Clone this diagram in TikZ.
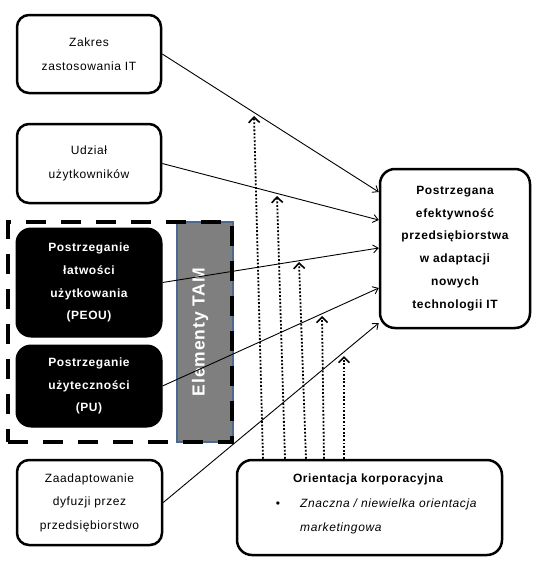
\documentclass[tikz,border=0pt]{standalone}
\usepackage{fontspec}
\setmainfont{Liberation Sans}[LetterSpace=5]
\usetikzlibrary{arrows.meta,calc}
\definecolor{tamgray}{HTML}{7F7F7F}
\definecolor{tamblue}{HTML}{4A6A94}
\begin{document}
\begin{tikzpicture}[x=1pt,y=-1pt,
  txt/.style={font=\fontsize{12}{23.5}\selectfont, align=center},
  wbox/.style={draw=black, line width=2.5pt, rounded corners=12pt, fill=white, txt, inner sep=0pt},
  bbox/.style={draw=black, fill=black, line width=1pt, rounded corners=15pt, align=center, text=white, font=\fontsize{12}{22.8}\selectfont\bfseries, inner sep=0pt},
  conn/.style={line width=0.9pt, -{Straight Barb[length=5pt,width=8pt]}},
  dots/.style={line width=1.8pt, dash pattern=on 1.8pt off 1.8pt, -{Straight Barb[length=5.5pt,width=11pt,line width=1.6pt]}},
]
\useasboundingbox (0,0) rectangle (538,565);

% left column
\node[wbox, minimum width=144pt, minimum height=78pt] (zak) at (89,54) {Zakres\\zastosowania IT};
\node[wbox, minimum width=144pt, minimum height=79pt] (udz) at (89,163.5) {Udział\\użytkowników};

% TAM group
\node[fill=tamgray, draw=tamblue, line width=1.5pt, minimum width=56pt, minimum height=220pt, inner sep=0pt] (tam) at (205,332) {};
\node[rotate=90, text=white, font=\fontsize{17.5}{20}\selectfont\bfseries, inner sep=0pt] (tamt) at (200,332) {Elementy TAM};
\node[draw=black, line width=4.5pt, dash pattern=on 20pt off 15pt, minimum width=224pt, minimum height=220pt, inner sep=0pt] (tamgrp) at (120,332) {};
\node[bbox, minimum width=146pt, minimum height=109pt] (peou) at (89,282.5) {Postrzeganie\\łatwości\\użytkowania\\(PEOU)};
\node[bbox, minimum width=146pt, minimum height=82pt] (pu) at (89,386) {Postrzeganie\\użyteczności\\(PU)};

\node[wbox, minimum width=145pt, minimum height=85pt] (zaad) at (89.5,502.5) {Zaadaptowanie\\dyfuzji przez\\przedsiębiorstwo};

% target
\node[wbox, minimum width=150pt, minimum height=159pt, font=\fontsize{12}{22.8}\selectfont\bfseries, rounded corners=15pt] (post) at (455,248.5) {Postrzegana\\efektywność\\przedsiębiorstwa\\w adaptacji\\nowych\\technologii IT};

% corporate orientation
\node[wbox, minimum width=265pt, minimum height=95pt, rounded corners=15pt] (ori) at (369.5,507.5) {};
\node[font=\fontsize{12}{23}\selectfont\bfseries, anchor=base, inner sep=0pt] (orit) at (368,482) {Orientacja korporacyjna};
\node[font=\fontsize{12}{23}\selectfont, anchor=base, inner sep=0pt] (orib) at (278,507) {•};
\node[font=\fontsize{12}{23}\selectfont\itshape, anchor=base west, inner sep=0pt] (orii1) at (300,507) {Znaczna / niewielka orientacja};
\node[font=\fontsize{12}{23}\selectfont\itshape, anchor=base west, inner sep=0pt] (orii2) at (300,531) {marketingowa};

% solid connectors
\draw[conn] (zak.east) -- (post.west |- 0,192);
\draw[conn] (udz.east) -- (post.west |- 0,220);
\draw[conn] (peou.east) -- (post.west |- 0,248);
\draw[conn] (pu.east) -- (post.west |- 0,288);
\draw[conn] (zaad.east) -- (post.west |- 0,323);

% dotted moderating arrows
\coordinate (d1) at (254,116);
\coordinate (d2) at (277,196);
\coordinate (d3) at (299,262);
\coordinate (d4) at (322,316);
\coordinate (d5) at (344,356);
\draw[dots] (ori.north west -| 263,0) -- (d1);
\draw[dots] (ori.north west -| 285,0) -- (d2);
\draw[dots] (ori.north west -| 306,0) -- (d3);
\draw[dots] (ori.north west -| 324,0) -- (d4);
\draw[dots] (ori.north west -| 344,0) -- (d5);
\end{tikzpicture}
\end{document}
